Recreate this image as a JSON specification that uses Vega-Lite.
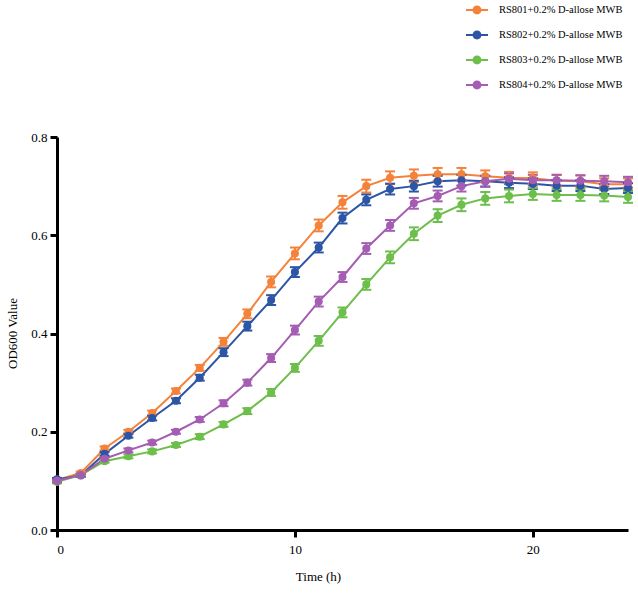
{
  "$schema": "https://vega.github.io/schema/vega-lite/v6.json",
  "width": 571,
  "height": 393,
  "autosize": {"type": "none"},
  "padding": {"left": 57, "top": 137, "right": 10, "bottom": 77},
  "background": "white",
  "config": {
    "view": {"stroke": null},
    "font": "'Liberation Serif', 'Times New Roman', Times, serif",
    "axis": {"grid": false, "domainColor": "black", "domainWidth": 3, "tickColor": "black", "tickWidth": 3, "tickSize": 7, "labelFont": "'Liberation Serif', 'Times New Roman', Times, serif", "titleFont": "'Liberation Serif', 'Times New Roman', Times, serif", "labelFontSize": 13, "titleFontSize": 13, "titleFontWeight": "normal", "labelColor": "black", "titleColor": "black"}
  },
  "data": {"values": [
    {"strain": "RS801+0.2% D-allose MWB", "t": 0, "od": 0.102, "err": 0.003},
    {"strain": "RS801+0.2% D-allose MWB", "t": 1, "od": 0.116, "err": 0.003},
    {"strain": "RS801+0.2% D-allose MWB", "t": 2, "od": 0.166, "err": 0.004},
    {"strain": "RS801+0.2% D-allose MWB", "t": 3, "od": 0.200, "err": 0.004},
    {"strain": "RS801+0.2% D-allose MWB", "t": 4, "od": 0.238, "err": 0.005},
    {"strain": "RS801+0.2% D-allose MWB", "t": 5, "od": 0.283, "err": 0.005},
    {"strain": "RS801+0.2% D-allose MWB", "t": 6, "od": 0.330, "err": 0.006},
    {"strain": "RS801+0.2% D-allose MWB", "t": 7, "od": 0.383, "err": 0.008},
    {"strain": "RS801+0.2% D-allose MWB", "t": 8, "od": 0.440, "err": 0.009},
    {"strain": "RS801+0.2% D-allose MWB", "t": 9, "od": 0.505, "err": 0.011},
    {"strain": "RS801+0.2% D-allose MWB", "t": 10, "od": 0.563, "err": 0.012},
    {"strain": "RS801+0.2% D-allose MWB", "t": 11, "od": 0.620, "err": 0.012},
    {"strain": "RS801+0.2% D-allose MWB", "t": 12, "od": 0.667, "err": 0.013},
    {"strain": "RS801+0.2% D-allose MWB", "t": 13, "od": 0.700, "err": 0.013},
    {"strain": "RS801+0.2% D-allose MWB", "t": 14, "od": 0.717, "err": 0.013},
    {"strain": "RS801+0.2% D-allose MWB", "t": 15, "od": 0.721, "err": 0.013},
    {"strain": "RS801+0.2% D-allose MWB", "t": 16, "od": 0.724, "err": 0.013},
    {"strain": "RS801+0.2% D-allose MWB", "t": 17, "od": 0.724, "err": 0.013},
    {"strain": "RS801+0.2% D-allose MWB", "t": 18, "od": 0.720, "err": 0.012},
    {"strain": "RS801+0.2% D-allose MWB", "t": 19, "od": 0.717, "err": 0.012},
    {"strain": "RS801+0.2% D-allose MWB", "t": 20, "od": 0.716, "err": 0.012},
    {"strain": "RS801+0.2% D-allose MWB", "t": 21, "od": 0.711, "err": 0.012},
    {"strain": "RS801+0.2% D-allose MWB", "t": 22, "od": 0.710, "err": 0.012},
    {"strain": "RS801+0.2% D-allose MWB", "t": 23, "od": 0.704, "err": 0.012},
    {"strain": "RS801+0.2% D-allose MWB", "t": 24, "od": 0.704, "err": 0.012},
    {"strain": "RS802+0.2% D-allose MWB", "t": 0, "od": 0.103, "err": 0.003},
    {"strain": "RS802+0.2% D-allose MWB", "t": 1, "od": 0.111, "err": 0.003},
    {"strain": "RS802+0.2% D-allose MWB", "t": 2, "od": 0.155, "err": 0.004},
    {"strain": "RS802+0.2% D-allose MWB", "t": 3, "od": 0.192, "err": 0.004},
    {"strain": "RS802+0.2% D-allose MWB", "t": 4, "od": 0.228, "err": 0.005},
    {"strain": "RS802+0.2% D-allose MWB", "t": 5, "od": 0.263, "err": 0.005},
    {"strain": "RS802+0.2% D-allose MWB", "t": 6, "od": 0.310, "err": 0.006},
    {"strain": "RS802+0.2% D-allose MWB", "t": 7, "od": 0.362, "err": 0.008},
    {"strain": "RS802+0.2% D-allose MWB", "t": 8, "od": 0.415, "err": 0.009},
    {"strain": "RS802+0.2% D-allose MWB", "t": 9, "od": 0.468, "err": 0.010},
    {"strain": "RS802+0.2% D-allose MWB", "t": 10, "od": 0.525, "err": 0.010},
    {"strain": "RS802+0.2% D-allose MWB", "t": 11, "od": 0.575, "err": 0.010},
    {"strain": "RS802+0.2% D-allose MWB", "t": 12, "od": 0.635, "err": 0.011},
    {"strain": "RS802+0.2% D-allose MWB", "t": 13, "od": 0.672, "err": 0.011},
    {"strain": "RS802+0.2% D-allose MWB", "t": 14, "od": 0.694, "err": 0.011},
    {"strain": "RS802+0.2% D-allose MWB", "t": 15, "od": 0.700, "err": 0.011},
    {"strain": "RS802+0.2% D-allose MWB", "t": 16, "od": 0.710, "err": 0.011},
    {"strain": "RS802+0.2% D-allose MWB", "t": 17, "od": 0.712, "err": 0.011},
    {"strain": "RS802+0.2% D-allose MWB", "t": 18, "od": 0.710, "err": 0.011},
    {"strain": "RS802+0.2% D-allose MWB", "t": 19, "od": 0.707, "err": 0.011},
    {"strain": "RS802+0.2% D-allose MWB", "t": 20, "od": 0.705, "err": 0.011},
    {"strain": "RS802+0.2% D-allose MWB", "t": 21, "od": 0.701, "err": 0.011},
    {"strain": "RS802+0.2% D-allose MWB", "t": 22, "od": 0.701, "err": 0.011},
    {"strain": "RS802+0.2% D-allose MWB", "t": 23, "od": 0.694, "err": 0.010},
    {"strain": "RS802+0.2% D-allose MWB", "t": 24, "od": 0.696, "err": 0.010},
    {"strain": "RS803+0.2% D-allose MWB", "t": 0, "od": 0.098, "err": 0.003},
    {"strain": "RS803+0.2% D-allose MWB", "t": 1, "od": 0.112, "err": 0.003},
    {"strain": "RS803+0.2% D-allose MWB", "t": 2, "od": 0.140, "err": 0.003},
    {"strain": "RS803+0.2% D-allose MWB", "t": 3, "od": 0.150, "err": 0.004},
    {"strain": "RS803+0.2% D-allose MWB", "t": 4, "od": 0.160, "err": 0.004},
    {"strain": "RS803+0.2% D-allose MWB", "t": 5, "od": 0.173, "err": 0.004},
    {"strain": "RS803+0.2% D-allose MWB", "t": 6, "od": 0.190, "err": 0.005},
    {"strain": "RS803+0.2% D-allose MWB", "t": 7, "od": 0.215, "err": 0.005},
    {"strain": "RS803+0.2% D-allose MWB", "t": 8, "od": 0.242, "err": 0.006},
    {"strain": "RS803+0.2% D-allose MWB", "t": 9, "od": 0.280, "err": 0.007},
    {"strain": "RS803+0.2% D-allose MWB", "t": 10, "od": 0.330, "err": 0.008},
    {"strain": "RS803+0.2% D-allose MWB", "t": 11, "od": 0.385, "err": 0.010},
    {"strain": "RS803+0.2% D-allose MWB", "t": 12, "od": 0.443, "err": 0.010},
    {"strain": "RS803+0.2% D-allose MWB", "t": 13, "od": 0.500, "err": 0.011},
    {"strain": "RS803+0.2% D-allose MWB", "t": 14, "od": 0.555, "err": 0.012},
    {"strain": "RS803+0.2% D-allose MWB", "t": 15, "od": 0.603, "err": 0.013},
    {"strain": "RS803+0.2% D-allose MWB", "t": 16, "od": 0.640, "err": 0.013},
    {"strain": "RS803+0.2% D-allose MWB", "t": 17, "od": 0.662, "err": 0.013},
    {"strain": "RS803+0.2% D-allose MWB", "t": 18, "od": 0.675, "err": 0.013},
    {"strain": "RS803+0.2% D-allose MWB", "t": 19, "od": 0.680, "err": 0.013},
    {"strain": "RS803+0.2% D-allose MWB", "t": 20, "od": 0.684, "err": 0.012},
    {"strain": "RS803+0.2% D-allose MWB", "t": 21, "od": 0.682, "err": 0.012},
    {"strain": "RS803+0.2% D-allose MWB", "t": 22, "od": 0.682, "err": 0.012},
    {"strain": "RS803+0.2% D-allose MWB", "t": 23, "od": 0.681, "err": 0.012},
    {"strain": "RS803+0.2% D-allose MWB", "t": 24, "od": 0.678, "err": 0.012},
    {"strain": "RS804+0.2% D-allose MWB", "t": 0, "od": 0.100, "err": 0.003},
    {"strain": "RS804+0.2% D-allose MWB", "t": 1, "od": 0.112, "err": 0.003},
    {"strain": "RS804+0.2% D-allose MWB", "t": 2, "od": 0.145, "err": 0.003},
    {"strain": "RS804+0.2% D-allose MWB", "t": 3, "od": 0.162, "err": 0.004},
    {"strain": "RS804+0.2% D-allose MWB", "t": 4, "od": 0.178, "err": 0.004},
    {"strain": "RS804+0.2% D-allose MWB", "t": 5, "od": 0.200, "err": 0.004},
    {"strain": "RS804+0.2% D-allose MWB", "t": 6, "od": 0.225, "err": 0.005},
    {"strain": "RS804+0.2% D-allose MWB", "t": 7, "od": 0.258, "err": 0.006},
    {"strain": "RS804+0.2% D-allose MWB", "t": 8, "od": 0.300, "err": 0.006},
    {"strain": "RS804+0.2% D-allose MWB", "t": 9, "od": 0.350, "err": 0.008},
    {"strain": "RS804+0.2% D-allose MWB", "t": 10, "od": 0.407, "err": 0.009},
    {"strain": "RS804+0.2% D-allose MWB", "t": 11, "od": 0.465, "err": 0.010},
    {"strain": "RS804+0.2% D-allose MWB", "t": 12, "od": 0.515, "err": 0.010},
    {"strain": "RS804+0.2% D-allose MWB", "t": 13, "od": 0.573, "err": 0.011},
    {"strain": "RS804+0.2% D-allose MWB", "t": 14, "od": 0.620, "err": 0.011},
    {"strain": "RS804+0.2% D-allose MWB", "t": 15, "od": 0.665, "err": 0.011},
    {"strain": "RS804+0.2% D-allose MWB", "t": 16, "od": 0.680, "err": 0.011},
    {"strain": "RS804+0.2% D-allose MWB", "t": 17, "od": 0.700, "err": 0.011},
    {"strain": "RS804+0.2% D-allose MWB", "t": 18, "od": 0.710, "err": 0.011},
    {"strain": "RS804+0.2% D-allose MWB", "t": 19, "od": 0.715, "err": 0.011},
    {"strain": "RS804+0.2% D-allose MWB", "t": 20, "od": 0.712, "err": 0.011},
    {"strain": "RS804+0.2% D-allose MWB", "t": 21, "od": 0.712, "err": 0.011},
    {"strain": "RS804+0.2% D-allose MWB", "t": 22, "od": 0.711, "err": 0.011},
    {"strain": "RS804+0.2% D-allose MWB", "t": 23, "od": 0.710, "err": 0.011},
    {"strain": "RS804+0.2% D-allose MWB", "t": 24, "od": 0.708, "err": 0.011}
  ]},
  "encoding": {
    "x": {"field": "t", "type": "quantitative", "scale": {"domain": [0, 24], "nice": false}, "axis": {"values": [0, 10, 20], "title": "Time (h)", "labelPadding": 6, "titleX": 261, "titleY": 40}},
    "y": {"field": "od", "type": "quantitative", "scale": {"domain": [0, 0.8], "nice": false}, "axis": {"values": [0, 0.2, 0.4, 0.6, 0.8], "format": ".1f", "title": "OD600 Value", "labelPadding": 3, "titleX": -38, "titleY": 196}},
    "color": {"field": "strain", "type": "nominal", "scale": {"domain": ["RS801+0.2% D-allose MWB", "RS802+0.2% D-allose MWB", "RS803+0.2% D-allose MWB", "RS804+0.2% D-allose MWB"], "range": ["#F5823A", "#2C55A5", "#6DBE4B", "#A45DB3"]},
      "legend": {"title": null, "orient": "none", "legendX": 412, "legendY": -135, "padding": 0, "symbolType": "M-1.375,-0.125H1.375V0.125H-1.375Z M0.56,0 A0.56,0.56 0 1,1 -0.56,0 A0.56,0.56 0 1,1 0.56,0Z", "symbolSize": 256, "symbolStrokeWidth": 0, "symbolOpacity": 1, "rowPadding": 11, "labelOffset": 14, "labelFont": "'Liberation Serif', 'Times New Roman', Times, serif", "labelFontSize": 10.5, "labelColor": "black", "labelLimit": 300,
        "encode": {"symbols": {"update": {"fill": {"scale": "color", "field": "value"}, "stroke": {"value": "transparent"}, "opacity": {"value": 1}}}}}}
  },
  "layer": [
    {"mark": {"type": "line", "strokeWidth": 2}},
    {"mark": {"type": "errorbar", "ticks": {"size": 10, "opacity": 1}, "thickness": 2, "opacity": 1}, "encoding": {"yError": {"field": "err"}}},
    {"mark": {"type": "point", "filled": true, "opacity": 1, "size": 65}}
  ]
}
